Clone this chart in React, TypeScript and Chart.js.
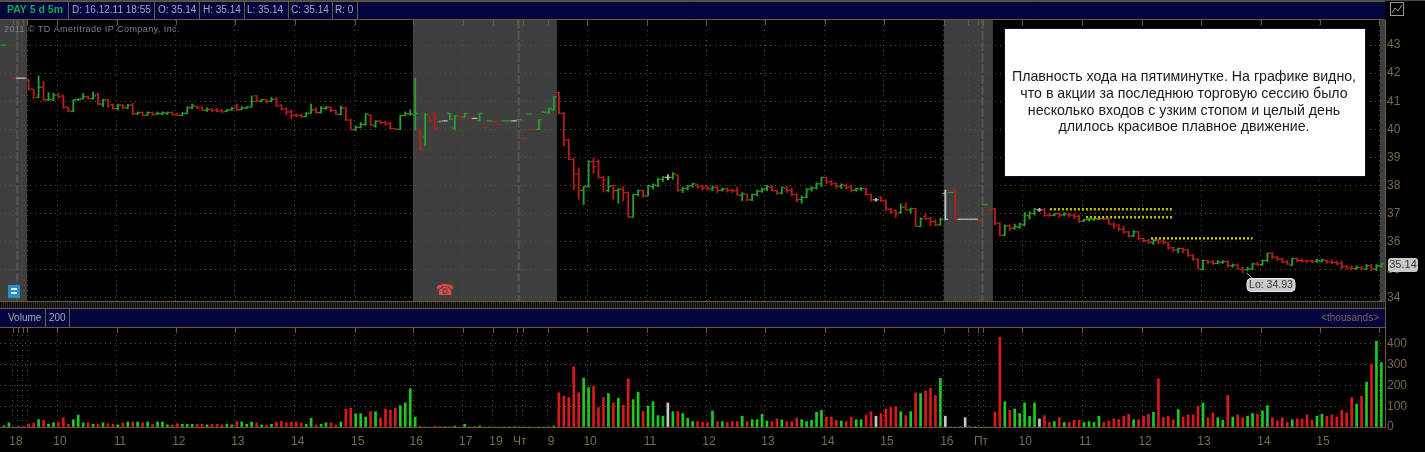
import React, { useEffect, useRef } from "react";
import Chart from "chart.js/auto";

// Bars are [open, high, low, close]. Slots run from -5 upward, one per five-minute bar.
const preMarketBars: (number[] | null)[] = [[43.0,43.0,43.0,43.0],null,[41.82,41.82,41.82,41.82],[41.82,41.82,41.82,41.82],[41.82,41.82,41.82,41.82]];
const day1Bars = [
[41.78,41.78,41.40,41.43],[41.43,41.43,41.09,41.26],[41.14,41.90,41.13,41.50],[41.50,41.70,41.02,41.05],[41.05,41.31,41.02,41.07],[41.05,41.28,41.02,41.22],[41.22,41.28,41.11,41.16],[41.19,41.22,40.75,40.79],[40.79,40.79,40.63,40.67],[40.63,41.05,40.63,41.05],
[41.05,41.09,41.02,41.07],[41.09,41.28,41.07,41.16],[41.16,41.19,41.07,41.09],[41.09,41.33,41.07,41.19],[41.26,41.28,40.87,40.90],[40.90,41.07,40.81,41.05],[41.05,41.07,40.79,40.83],[40.88,40.90,40.71,40.74],[40.74,40.90,40.69,40.86],[40.86,40.88,40.71,40.79],
[40.76,40.88,40.74,40.86],[40.86,40.93,40.52,40.57],[40.55,40.62,40.52,40.60],[40.60,40.62,40.50,40.50],[40.50,40.62,40.50,40.60],[40.60,40.62,40.50,40.52],[40.55,40.62,40.52,40.57],[40.55,40.62,40.52,40.60],[40.57,40.62,40.52,40.60],[40.60,40.62,40.50,40.52],
[40.55,40.57,40.48,40.50],[40.50,40.60,40.48,40.57],[40.57,40.79,40.55,40.79],[40.76,40.90,40.74,40.83],[40.81,40.83,40.74,40.76],[40.79,40.79,40.67,40.69],[40.67,40.76,40.64,40.71],[40.71,40.74,40.64,40.67],[40.69,40.74,40.62,40.64],[40.67,40.71,40.60,40.62],
[40.64,40.71,40.62,40.69],[40.69,40.79,40.67,40.74],[40.79,40.90,40.67,40.69],[40.71,40.81,40.69,40.76],[40.76,40.81,40.74,40.79],[40.79,41.19,40.79,40.99],[41.19,41.21,40.98,41.02],[41.00,41.07,40.98,41.05],[41.05,41.07,40.93,41.00],[41.00,41.14,40.98,41.07],
[41.07,41.14,40.81,40.83],[40.86,40.88,40.69,40.71],[40.74,40.76,40.52,40.62],[40.62,40.69,40.38,40.48],[40.52,40.55,40.45,40.48],[40.50,40.55,40.43,40.45],[40.45,40.60,40.45,40.57],[40.57,40.90,40.57,40.69],[40.71,40.76,40.57,40.60],[40.60,40.81,40.57,40.76],
[40.74,40.81,40.71,40.79],[40.79,40.79,40.62,40.67],[40.67,40.67,40.52,40.55],[40.52,40.83,40.52,40.76],[40.76,40.79,40.31,40.33],[40.33,40.36,39.98,40.00],[39.98,40.12,39.96,40.07],[40.07,40.24,40.05,40.17],[40.17,40.55,40.14,40.55],[40.50,40.52,40.14,40.17],
[40.12,40.31,40.07,40.29],[40.29,40.31,40.19,40.24],[40.24,40.29,40.14,40.19],[40.21,40.26,40.00,40.03],[40.03,40.03,39.98,40.00],[40.00,40.50,40.00,40.50],[40.48,40.62,40.48,40.55],[40.55,40.69,40.50,40.55],[40.51,41.82,39.98,40.57],
];
const after1Bars = [
[39.98,39.98,39.27,39.27],[39.72,40.57,39.41,40.51],[40.48,40.48,40.26,40.31],[40.57,40.57,40.00,40.04],[40.26,40.31,40.24,40.29],[40.30,40.30,40.30,40.30],[40.57,40.57,40.36,40.36],[40.04,40.48,39.98,40.48],[40.45,40.45,40.45,40.45],[40.43,40.57,40.43,40.57],
[40.39,40.39,40.39,40.39],[40.39,40.39,40.39,40.39],[40.31,40.57,40.28,40.57],[40.07,40.07,40.07,40.07],[40.30,40.30,40.30,40.30],[40.28,40.28,40.28,40.28],[40.17,40.17,40.17,40.17],[40.30,40.30,40.30,40.30],[40.30,40.30,40.30,40.30],[40.30,40.30,40.30,40.30],
[40.34,40.34,40.34,40.34],[39.67,39.67,39.67,39.67],[40.54,40.54,40.54,40.54],[40.00,40.00,40.00,40.00],[40.00,40.34,40.00,40.34],[40.61,40.61,40.61,40.61],[40.57,40.75,40.57,40.75],[40.69,41.16,40.69,41.16],
];
const day2Bars = [
[41.31,41.31,40.55,40.57],[40.57,40.60,39.41,39.62],[39.62,39.65,38.91,38.93],[38.93,38.96,37.84,38.41],[38.41,38.63,37.51,37.84],[37.82,37.96,37.32,37.96],[37.96,38.88,37.94,38.85],[38.85,38.98,38.44,38.67],[38.85,38.91,38.27,38.29],[38.29,38.32,37.77,38.20],
[37.82,38.32,37.77,37.96],[37.99,38.01,37.51,37.82],[37.82,37.89,37.37,37.87],[37.87,37.96,37.46,37.75],[37.75,37.77,36.87,36.89],[36.87,37.68,36.87,37.68],[37.68,37.84,37.63,37.82],[37.82,37.84,37.58,37.63],[37.63,38.01,37.63,37.99],[37.96,38.06,37.87,38.02],
[37.99,38.26,37.96,38.22],[38.22,38.32,38.14,38.29],[38.29,38.38,38.20,38.29],[38.29,38.46,38.22,38.41],[38.38,38.38,37.80,37.82],[37.84,37.94,37.75,37.90],[37.90,38.01,37.84,37.99],[37.99,38.08,37.94,38.06],[38.02,38.06,37.90,37.96],[37.99,38.01,37.84,37.91],
[37.96,37.99,37.84,37.90],[37.87,37.99,37.82,37.94],[37.94,37.99,37.75,37.82],[37.84,37.91,37.80,37.87],[37.89,37.91,37.77,37.82],[37.84,37.87,37.75,37.80],[37.82,37.94,37.65,37.68],[37.65,37.75,37.46,37.70],[37.68,37.70,37.46,37.49],[37.49,37.70,37.46,37.68],
[37.68,37.84,37.63,37.80],[37.80,37.91,37.75,37.87],[37.89,38.01,37.82,37.96],[37.94,37.99,37.80,37.82],[37.82,37.84,37.69,37.73],[37.73,37.94,37.70,37.94],[37.91,37.96,37.75,37.82],[37.82,37.91,37.63,37.68],[37.68,37.73,37.42,37.49],[37.51,37.63,37.37,37.58],
[37.58,37.89,37.56,37.87],[37.87,37.96,37.80,37.91],[37.91,38.10,37.87,38.06],[38.06,38.29,37.96,38.29],[38.29,38.29,38.06,38.13],[38.13,38.18,38.01,38.06],[38.06,38.10,37.89,37.99],[37.96,38.06,37.89,38.02],[37.99,38.06,37.87,37.94],[37.96,38.01,37.77,37.82],
[37.84,37.91,37.80,37.89],[37.87,37.94,37.82,37.89],[37.89,37.91,37.65,37.68],[37.68,37.70,37.44,37.49],[37.49,37.54,37.44,37.49],[37.58,37.61,37.43,37.46],[37.46,37.49,37.11,37.16],[37.16,37.19,36.99,37.04],[37.11,37.13,36.87,36.99],[37.04,37.35,37.01,37.23],
[37.23,37.37,37.11,37.13],[37.13,37.20,37.01,37.18],[37.18,37.19,36.54,36.56],[36.54,36.85,36.54,36.82],[36.90,36.99,36.78,36.82],[36.82,36.87,36.56,36.72],[36.72,36.78,36.56,36.60],[36.60,36.84,36.59,36.80],
];
const after2Bars = [
[37.72,37.84,36.78,36.80],[37.75,37.75,37.75,37.75],[37.87,37.87,36.78,36.80],[36.80,36.80,36.80,36.80],[36.80,36.80,36.80,36.80],[36.80,36.80,36.80,36.80],[36.80,36.80,36.80,36.80],[36.75,36.75,36.75,36.75],[37.33,37.33,37.33,37.33],[37.13,37.13,37.13,37.13],
];
const day3Bars = [
[37.18,37.18,36.60,36.66],[36.66,36.68,36.21,36.23],[36.23,36.60,36.21,36.56],[36.56,36.60,36.40,36.48],[36.48,36.63,36.44,36.54],[36.51,36.66,36.47,36.63],[36.60,37.04,36.56,36.95],[36.92,37.07,36.80,37.01],[37.01,37.19,36.95,37.16],[37.13,37.19,37.08,37.13],
[37.13,37.19,36.90,36.94],[36.94,37.01,36.90,36.94],[36.94,37.01,36.92,36.99],[36.99,37.04,36.87,36.94],[36.96,37.04,36.92,36.99],[36.96,37.01,36.87,36.94],[36.94,36.99,36.82,36.90],[36.90,36.94,36.68,36.73],[36.73,36.80,36.71,36.78],[36.78,36.84,36.73,36.80],
[36.80,36.85,36.75,36.82],[36.80,36.87,36.78,36.82],[36.82,36.85,36.78,36.80],[36.80,36.82,36.61,36.63],[36.63,36.68,36.47,36.59],[36.59,36.61,36.40,36.44],[36.44,36.54,36.30,36.35],[36.35,36.37,36.16,36.21],[36.21,36.40,36.18,36.35],[36.35,36.37,36.06,36.11],
[36.11,36.14,35.99,36.04],[36.04,36.09,35.94,35.99],[35.97,36.09,35.90,36.04],[36.04,36.09,35.92,35.99],[36.02,36.09,35.92,35.97],[35.97,35.99,35.73,35.78],[35.78,35.80,35.64,35.71],[35.71,35.78,35.61,35.76],[35.76,35.78,35.61,35.71],[35.71,35.73,35.47,35.52],
[35.52,35.54,35.33,35.38],[35.38,35.40,35.02,35.04],[35.02,35.35,35.00,35.33],[35.33,35.35,35.21,35.28],[35.28,35.33,35.19,35.23],[35.23,35.33,35.21,35.28],[35.26,35.33,35.23,35.29],[35.29,35.33,35.09,35.16],[35.14,35.21,35.09,35.17],[35.17,35.21,35.02,35.04],
[35.04,35.09,34.90,35.00],[35.00,35.09,34.97,35.04],[35.02,35.23,35.00,35.21],[35.21,35.26,35.14,35.19],[35.19,35.35,35.16,35.33],[35.33,35.59,35.28,35.59],[35.59,35.61,35.40,35.45],[35.45,35.47,35.33,35.38],[35.38,35.42,35.26,35.28],[35.28,35.33,35.19,35.21],
[35.17,35.42,35.16,35.40],[35.40,35.42,35.28,35.33],[35.33,35.38,35.28,35.31],[35.31,35.35,35.26,35.31],[35.33,35.35,35.26,35.28],[35.31,35.38,35.26,35.33],[35.31,35.38,35.28,35.35],[35.33,35.35,35.23,35.28],[35.28,35.35,35.21,35.26],[35.26,35.31,35.19,35.21],
[35.23,35.31,35.04,35.12],[35.12,35.16,35.02,35.07],[35.07,35.14,35.00,35.04],[35.04,35.14,35.02,35.09],[35.07,35.12,35.00,35.04],[35.02,35.19,35.00,35.14],[35.14,35.19,34.97,35.04],[35.02,35.19,34.97,35.14],[35.12,35.21,35.09,35.21],
];

// r = down bar, g = up bar, w = unchanged bar
const preMarketMoves = "ggrww";
const day1Moves = "rrgrggrrrgggrgrgrrgrgrgrgrgggrrgggrrgrrrggrgggrgrgrrrrrrggrggrrgrrgggrgrrrrgggg";
const after1Moves = "rgrrgwggrgrwgrgrrggwgrgrgggg";
const day2Moves = "rrrrrggrrrgrgrrggrggggwgrgggrrrgrgrrrgrggggrrgrrrgggggrrrgrrggrrwrrrrgrgrgrrrg";
const after2Moves = "wgrwwwwrgr";
const day3Moves = "rrgrgggggwrrgrgrrrggggrrrrrrgrrrgrrrrgrrrrgrrggrgrrggrggrrrrgrrrrggrrrrrrgrgrgg";

const preMarketVolumes = [6, 20, 0, 0, 0];
const day1Volumes = [15,20,36,32,13,20,22,45,13,35,58,20,20,13,13,20,16,13,10,20,24,24,24,20,24,13,24,24,10,10,16,13,13,13,13,13,10,13,13,10,13,10,26,24,13,24,20,10,10,13,24,28,20,24,24,20,13,42,10,13,20,20,10,24,87,90,64,64,48,74,74,42,87,80,90,103,116,184,48];
const after1Volumes = [4,0,0,4,0,0,0,5,0,13,0,0,5,0,0,0,0,0,0,0,0,0,0,0,0,0,0,5];
const day2Volumes = [165,148,142,290,165,235,190,197,94,142,161,116,139,105,232,132,168,74,100,122,55,52,116,74,74,65,42,26,26,22,22,77,26,26,22,26,26,52,26,35,35,61,29,26,39,35,26,26,42,35,26,32,71,80,48,48,32,29,26,48,35,35,58,74,52,65,87,94,97,74,55,74,165,161,174,187,152,235];
const after2Volumes = [52,0,0,0,45,0,0,0,0,0];
const day3Volumes = [71,432,122,80,87,65,116,52,116,39,55,22,26,45,22,22,32,32,22,26,22,52,22,29,39,35,52,61,35,35,52,61,71,232,45,52,35,84,48,58,58,100,116,45,68,45,32,152,48,58,45,52,65,61,77,103,45,29,45,22,35,39,39,58,32,52,61,52,58,48,80,68,142,110,148,216,303,413,310];

const priceTicks = [34, 35, 36, 37, 38, 39, 40, 41, 42, 43];
const volumeTicks = [0, 100, 200, 300, 400];
const xTickSlots = [-3.17,-2.16,-1.15,-0.34,5.72,17.8,29.7,41.6,53.7,65.8,77.6,87.6,93.7,98.5,99.7,104.8,112.7,124.8,136.7,148.6,160.7,172.6,184.7,189.6,191.6,192.6,200.5,212.6,224.7,236.6,248.7,260.6,272.6];
const xTickLabels = ["18","","","","10","11","12","13","14","15","16","17","19","Чт","","9","10","11","12","13","14","15","16","","Пт","","10","11","12","13","14","15",""];

const afterHoursBands = [[-5.79,-0.35],[77.55,106.6],[184.7,194.6],[272.7,273.73]];
const bandSeams = [-2.3, 98.9, 192.5];
const entryLevels = [
  { from: 206.1, to: 231, price: 37.155 },
  { from: 213.4, to: 231, price: 36.87 },
  { from: 226.5, to: 247, price: 36.12 },
];
const lowMark = { slot: 245, price: 34.93, label: "Lo: 34.93" };
const lastPrice = 35.14;
const statusCells = ["D: 16.12.11 18:55", "O: 35.14", "H: 35.14", "L: 35.14", "C: 35.14", "R: 0"];
const noteLines = [
  "Плавность хода на пятиминутке. На графике видно,",
  "что в акции за последнюю торговую сессию было",
  "несколько входов с узким стопом и целый день",
  "длилось красивое плавное движение.",
];

const allBars = [...preMarketBars, ...day1Bars, ...after1Bars, ...day2Bars, ...after2Bars, ...day3Bars];
const allMoves = preMarketMoves + day1Moves + after1Moves + day2Moves + after2Moves + day3Moves;
const allVolumes = [...preMarketVolumes, ...day1Volumes, ...after1Volumes, ...day2Volumes, ...after2Volumes, ...day3Volumes];
const slotOf = (i: number) => i - 5;

const PRICE_COLORS: Record<string, string> = { g: "#27a02c", r: "#b81c1c", w: "#c0c0c0" };
const VOLUME_COLORS: Record<string, string> = { g: "#1ccb22", r: "#d81a1a", w: "#c8c8c8" };
const BROWN = "#6f5a38";
const AXIS_TEXT = "#7c6a48";
const SANS = '"Liberation Sans", Arial, sans-serif';

function roundRect(ctx: any, x: number, y: number, w: number, h: number, r: number) {
  ctx.beginPath();
  ctx.roundRect(x, y, w, h, r);
}

function drawHeaderBand(ctx: any, top: number, bottom: number, right: number) {
  ctx.fillStyle = "#04043e";
  ctx.fillRect(0, top, right, bottom - top);
  ctx.strokeStyle = BROWN;
  ctx.lineWidth = 1;
  ctx.beginPath();
  ctx.moveTo(0, top - 0.5);
  ctx.lineTo(right, top - 0.5);
  ctx.moveTo(0, bottom + 0.5);
  ctx.lineTo(right, bottom + 0.5);
  ctx.stroke();
}

function divider(ctx: any, x: number, top: number, bottom: number) {
  ctx.strokeStyle = BROWN;
  ctx.lineWidth = 1;
  ctx.beginPath();
  ctx.moveTo(x + 0.5, top);
  ctx.lineTo(x + 0.5, bottom);
  ctx.stroke();
}

const paneChrome = {
  id: "paneChrome",
  beforeDraw(chart: any) {
    const { ctx, scales, width, height } = chart;
    const { x, y } = scales;
    ctx.save();
    ctx.fillStyle = "#000000";
    ctx.fillRect(0, 0, width, height);
    ctx.fillStyle = "#3f3f3f";
    afterHoursBands.forEach(([a, b]) => {
      const l = x.getPixelForValue(a);
      ctx.fillRect(l, y.top, x.getPixelForValue(b) - l, y.bottom - y.top);
    });
    ctx.strokeStyle = "#545454";
    ctx.lineWidth = 2;
    ctx.setLineDash([9, 2]);
    bandSeams.forEach((s) => {
      const px = x.getPixelForValue(s);
      ctx.beginPath();
      ctx.moveTo(px, y.top);
      ctx.lineTo(px, y.bottom);
      ctx.stroke();
    });
    ctx.restore();
  },
  beforeDatasetsDraw(chart: any) {
    const { ctx, scales, width } = chart;
    const { x, y } = scales;
    const right = x.right;
    ctx.save();
    // strip between the panes
    ctx.fillStyle = "#000000";
    ctx.fillRect(0, y.bottom, right, 34);
    ctx.fillStyle = "#2a2a2a";
    ctx.fillRect(0, y.bottom + 1, right, 6);
    ctx.strokeStyle = "#0c0c0c";
    ctx.setLineDash([1, 1]);
    ctx.lineWidth = 6;
    ctx.beginPath();
    ctx.moveTo(0, y.bottom + 4);
    ctx.lineTo(right, y.bottom + 4);
    ctx.stroke();
    ctx.setLineDash([]);
    ctx.strokeStyle = BROWN;
    ctx.lineWidth = 1;
    ctx.beginPath();
    ctx.moveTo(0, y.bottom + 0.5);
    ctx.lineTo(right, y.bottom + 0.5);
    ctx.stroke();
    drawHeaderBand(ctx, y.bottom + 8, y.bottom + 26, right);
    // top status strip
    ctx.fillStyle = "#000000";
    ctx.fillRect(0, 0, width, y.top);
    ctx.fillStyle = "#4a4a4a";
    ctx.fillRect(0, 0, width, 1);
    drawHeaderBand(ctx, 2, y.top - 1, right);
    // short hour marks along the pane tops
    ctx.strokeStyle = BROWN;
    ctx.lineWidth = 1;
    ctx.beginPath();
    x.ticks.forEach((t: any) => {
      const px = Math.round(x.getPixelForValue(t.value)) + 0.5;
      ctx.moveTo(px, y.top);
      ctx.lineTo(px, y.top + 5);
      ctx.moveTo(px, y.bottom + 27);
      ctx.lineTo(px, y.bottom + 32);
    });
    ctx.stroke();
    ctx.restore();
  },
  afterDatasetsDraw(chart: any) {
    const { ctx, scales } = chart;
    const { x, y } = scales;
    ctx.save();
    ctx.textBaseline = "middle";

    // status strip text
    ctx.textAlign = "left";
    ctx.font = `bold 10.5px ${SANS}`;
    ctx.fillStyle = "#12a84a";
    ctx.fillText("PAY 5 d 5m", 7, 10);
    ctx.font = `10px ${SANS}`;
    ctx.fillStyle = "#a8a8b8";
    const cellLefts = [72, 158, 203, 247, 291, 335];
    statusCells.forEach((t, i) => ctx.fillText(t, cellLefts[i], 10));
    [68, 154, 199, 244, 288, 332, 357].forEach((p) => divider(ctx, p, 2, y.top - 1));

    // volume strip text
    const mid = y.bottom + 17;
    ctx.fillText("Volume", 8, mid);
    ctx.fillText("200", 49, mid);
    [45, 69].forEach((p) => divider(ctx, p, y.bottom + 8, y.bottom + 26));
    ctx.textAlign = "right";
    ctx.fillStyle = "#7a6a58";
    ctx.fillText("<thousands>", 1379, mid);

    // copyright line
    ctx.textAlign = "left";
    ctx.fillStyle = "#808080";
    ctx.font = `9px ${SANS}`;
    ctx.letterSpacing = "0.42px";
    ctx.fillText("2011 © TD Ameritrade IP Company, Inc.", 4, 29.5);
    ctx.letterSpacing = "0px";

    // note box
    ctx.fillStyle = "#ffffff";
    ctx.strokeStyle = "#0a1230";
    ctx.lineWidth = 1;
    ctx.fillRect(1005, 29, 360, 147);
    ctx.strokeRect(1004.5, 28.5, 361, 148);
    ctx.fillStyle = "#1a1a1a";
    ctx.font = `14.2px ${SANS}`;
    ctx.textAlign = "center";
    noteLines.forEach((l, i) => ctx.fillText(l, 1184, 77 + i * 16.8));

    // low callout
    const lx = x.getPixelForValue(lowMark.slot);
    const ly = y.getPixelForValue(lowMark.price);
    ctx.strokeStyle = "#b0b0b0";
    ctx.lineWidth = 1;
    ctx.beginPath();
    ctx.moveTo(lx + 4, ly + 1);
    ctx.lineTo(1253, 279);
    ctx.stroke();
    ctx.fillStyle = "#c9c9c9";
    ctx.strokeStyle = "#eeeeee";
    roundRect(ctx, 1247, 278.5, 48, 13, 4);
    ctx.fill();
    ctx.stroke();
    ctx.fillStyle = "#333333";
    ctx.font = `10.5px ${SANS}`;
    ctx.fillText(lowMark.label, 1271, 285.5);

    // last price flag
    const py = y.getPixelForValue(lastPrice);
    ctx.fillStyle = "#c9c9c9";
    roundRect(ctx, 1388, py - 8, 30, 14, 3);
    ctx.fill();
    ctx.fillStyle = "#333333";
    ctx.font = `11px ${SANS}`;
    ctx.fillText(String(lastPrice), 1403, py - 0.5);

    // corner and marker icons
    ctx.strokeStyle = "#9a9a9a";
    ctx.strokeRect(1390.5, 2.5, 13, 13);
    ctx.beginPath();
    ctx.moveTo(1392, 13);
    ctx.lineTo(1395, 8);
    ctx.lineTo(1398, 11);
    ctx.lineTo(1402, 5);
    ctx.stroke();
    ctx.fillStyle = "#2c8fc4";
    ctx.fillRect(8, 285, 12, 13);
    ctx.fillStyle = "#d8eef8";
    ctx.fillRect(11, 288, 6, 2);
    ctx.fillRect(11, 292, 6, 2);
    ctx.fillStyle = "#e04a4a";
    ctx.font = `15px "DejaVu Sans", sans-serif`;
    ctx.fillText("☎", 445, 291);
    ctx.restore();
  },
};

function yAxisFit(axis: any) {
  axis.width = 40;
}

export default function App() {
  const ref = useRef<HTMLCanvasElement | null>(null);
  useEffect(() => {
    document.body.style.margin = "0";
    document.body.style.background = "#000";
    const rows = allBars.map((b, i) => ({ b, i })).filter((r) => r.b) as { b: number[]; i: number }[];
    const chart = new Chart(ref.current as HTMLCanvasElement, {
      type: "bar",
      data: {
        datasets: [
          ...entryLevels.map((l) => ({
            type: "line" as const,
            yAxisID: "y",
            data: [{ x: l.from, y: l.price }, { x: l.to, y: l.price }],
            borderColor: "#c9c400",
            borderWidth: 2.5,
            borderDash: [2, 2],
            pointRadius: 0,
          })),
          {
            type: "scatter" as const,
            yAxisID: "y",
            data: rows.map((r) => ({ x: slotOf(r.i) - 0.27, y: r.b[0] })),
            pointStyle: "line",
            pointRadius: 1.5,
            pointBorderWidth: 1.1,
            pointBorderColor: rows.map((r) => PRICE_COLORS[allMoves[r.i]]),
          },
          {
            type: "scatter" as const,
            yAxisID: "y",
            data: rows.map((r) => ({ x: slotOf(r.i) + 0.27, y: r.b[3] })),
            pointStyle: "line",
            pointRadius: 1.5,
            pointBorderWidth: 1.1,
            pointBorderColor: rows.map((r) => PRICE_COLORS[allMoves[r.i]]),
          },
          {
            yAxisID: "y",
            grouped: false,
            barThickness: 1.2,
            data: rows.map((r) => ({ x: slotOf(r.i), y: [r.b[2], r.b[1]] })),
            backgroundColor: rows.map((r) => PRICE_COLORS[allMoves[r.i]]),
          },
          {
            yAxisID: "yVol",
            grouped: false,
            barThickness: 2,
            data: allVolumes.map((v, i) => ({ x: slotOf(i), y: v })),
            backgroundColor: allVolumes.map((_, i) => VOLUME_COLORS[allMoves[i]]),
          },
        ] as any,
      },
      options: {
        responsive: false,
        animation: false,
        devicePixelRatio: 1,
        events: [],
        layout: { autoPadding: false, padding: { top: 20, left: 0, right: 0, bottom: 0 } },
        plugins: { legend: { display: false }, tooltip: { enabled: false } },
        scales: {
          x: {
            type: "linear",
            offset: false,
            min: -5.79,
            max: 273.73,
            afterBuildTicks: (axis: any) => {
              axis.ticks = xTickSlots.map((value) => ({ value }));
            },
            afterFit: (axis: any) => {
              axis.height = 25;
              axis.paddingLeft = 0;
              axis.paddingRight = 0;
            },
            grid: { offset: false, color: "#5a4a30", drawTicks: false, lineWidth: 1 },
            border: { color: BROWN, dash: [1, 4] },
            ticks: {
              autoSkip: false,
              maxRotation: 0,
              padding: 7,
              labelOffset: 3,
              color: AXIS_TEXT,
              font: { family: SANS, size: 12 },
              callback: (_v: any, i: number) => xTickLabels[i],
            },
          },
          y: {
            type: "linear",
            position: "right",
            stack: "panes",
            stackWeight: 281,
            min: 33.89,
            max: 43.89,
            afterBuildTicks: (axis: any) => {
              axis.ticks = priceTicks.map((value) => ({ value }));
            },
            afterFit: yAxisFit,
            grid: { color: "#645232", tickColor: BROWN, tickLength: 1, lineWidth: 1 },
            border: { color: BROWN, dash: [1, 4] },
            ticks: {
              autoSkip: false,
              padding: 1,
              color: AXIS_TEXT,
              font: { family: SANS, size: 12 },
              callback: (v: any) => String(v),
            },
          },
          yVol: {
            type: "linear",
            position: "right",
            stack: "panes",
            stackWeight: 126,
            min: 0,
            max: 607,
            afterBuildTicks: (axis: any) => {
              axis.ticks = volumeTicks.map((value) => ({ value }));
            },
            afterFit: yAxisFit,
            grid: { color: "#645232", tickColor: BROWN, tickLength: 1, lineWidth: 1 },
            border: { color: BROWN, dash: [1, 4] },
            ticks: {
              autoSkip: false,
              padding: 1,
              color: AXIS_TEXT,
              font: { family: SANS, size: 12 },
              callback: (v: any) => String(v),
            },
          },
        },
      } as any,
      plugins: [paneChrome as any],
    });
    return () => chart.destroy();
  }, []);
  return (
    <div style={{ position: "absolute", left: 0, top: 0, width: 1425, height: 452 }}>
      <canvas ref={ref} width={1425} height={452} style={{ display: "block" }} />
    </div>
  );
}
